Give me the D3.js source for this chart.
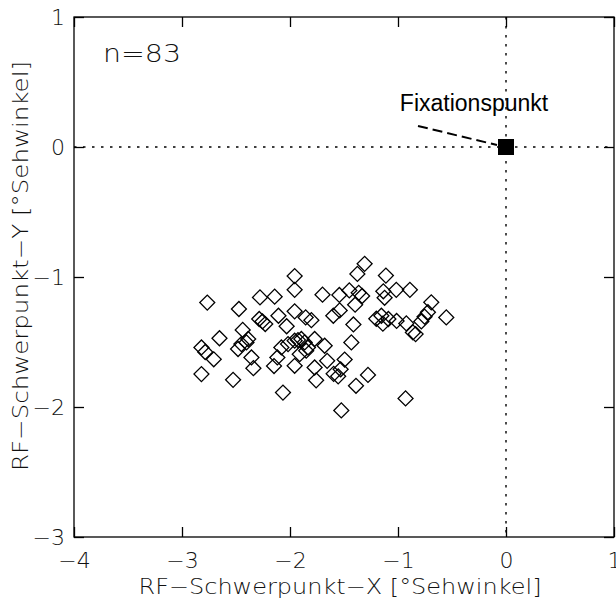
<!DOCTYPE html>
<html>
<head>
<meta charset="utf-8">
<script src="https://cdn.jsdelivr.net/npm/d3@7"></script>
<style>
  html, body { margin: 0; padding: 0; background: #fff; }
  svg { display: block; }
  .hershey { font-family: "DejaVu Sans", sans-serif; font-weight: 200; fill: #111; }
</style>
</head>
<body>
<svg id="chart" width="616" height="605"></svg>
<script>
// ---- data ----
const xTickValues = [-4, -3, -2, -1, 0, 1];
const yTickValues = [-3, -2, -1, 0, 1];
const xTickLabels = ["\u22124", "\u22123", "\u22122", "\u22121", "0", "1"];
const yTickLabels = ["\u22123", "\u22122", "\u22121", "0", "1"];

const rfX = [
  -2.766, -2.820, -2.785, -2.706, -2.820, -2.653, -2.527, -2.473, -2.438, -2.387,
  -2.481, -2.450, -2.357, -2.339, -2.285, -2.255, -2.229, -2.278,
  -2.142, -1.957, -1.957, -2.107, -1.957, -2.031, -1.855, -1.802, -2.148, -2.117,
  -2.065, -1.957, -2.080, -2.018, -1.957, -1.895, -1.864, -1.910, -1.850, -1.772,
  -1.834, -1.772, -1.758,
  -1.699, -1.543, -1.451, -1.364, -1.332, -1.397, -1.309, -1.376, -1.112, -1.136,
  -1.124, -1.016, -0.890, -0.692, -1.540, -1.599, -1.413, -1.201, -1.154, -1.140,
  -1.089, -1.013, -0.923, -0.862, -0.837, -0.784, -0.754, -0.723, -0.553, -1.432,
  -1.679, -1.656, -1.494, -1.531, -1.554, -1.596, -1.278, -1.389, -0.930, -1.525,
  -2.403, -1.926
];
const rfY = [
  -1.197, -1.542, -1.577, -1.633, -1.747, -1.471, -1.791, -1.246, -1.407, -1.477,
  -1.554, -1.516, -1.619, -1.701, -1.323, -1.342, -1.362, -1.157,
  -1.151, -0.993, -1.099, -1.298, -1.264, -1.379, -1.311, -1.332, -1.685, -1.619,
  -1.889, -1.683, -1.542, -1.516, -1.490, -1.477, -1.503, -1.594, -1.567, -1.477,
  -1.542, -1.696, -1.795,
  -1.136, -1.138, -1.103, -1.122, -1.146, -1.213, -0.899, -0.976, -0.989, -1.110,
  -1.160, -1.099, -1.099, -1.195, -1.257, -1.298, -1.365, -1.321, -1.298, -1.359,
  -1.323, -1.338, -1.357, -1.426, -1.439, -1.342, -1.305, -1.271, -1.311, -1.503,
  -1.529, -1.645, -1.635, -1.710, -1.764, -1.745, -1.753, -1.837, -1.934, -2.026,
  -1.503, -1.485
];
const fixation = [{x: 0, y: 0}];
const nLabel = "n=83";
const xTitle = "RF\u2212Schwerpunkt\u2212X [\u00B0Sehwinkel]";
const yTitle = "RF\u2212Schwerpunkt\u2212Y [\u00B0Sehwinkel]";
const fixLabel = "Fixationspunkt";

// ---- layout ----
const L = 74, R = 614, T = 17, B = 537;
const x = d3.scaleLinear().domain([-4, 1]).range([L, R]);
const y = d3.scaleLinear().domain([-3, 1]).range([B, T]);

const svg = d3.select("#chart");

// dotted reference lines
svg.append("line")
  .attr("x1", x(-4)).attr("x2", x(1)).attr("y1", y(0)).attr("y2", y(0))
  .attr("stroke", "#000").attr("stroke-width", 1.4).attr("stroke-dasharray", "2.5,6.5");
svg.append("line")
  .attr("x1", x(0)).attr("x2", x(0)).attr("y1", y(1)).attr("y2", y(-3))
  .attr("stroke", "#000").attr("stroke-width", 1.4).attr("stroke-dasharray", "2.5,6.5");

// frame
svg.append("rect")
  .attr("x", L).attr("y", T).attr("width", R - L).attr("height", B - T)
  .attr("fill", "none").attr("stroke", "#000").attr("stroke-width", 1.3);

// axes with inward ticks (no domain)
const tickLen = 10;
const axBottom = d3.axisBottom(x).tickValues(xTickValues).tickSize(-tickLen).tickFormat((d, i) => xTickLabels[i]).tickPadding(15);
const axTop = d3.axisTop(x).tickValues(xTickValues).tickSize(-tickLen).tickFormat("");
const axLeft = d3.axisLeft(y).tickValues(yTickValues).tickSize(-tickLen).tickFormat((d, i) => yTickLabels[i]).tickPadding(9);
const axRight = d3.axisRight(y).tickValues(yTickValues).tickSize(-tickLen).tickFormat("");

function styleAxis(g) {
  g.select(".domain").remove();
  g.selectAll(".tick line").attr("stroke", "#000").attr("stroke-width", 1.3);
  g.selectAll(".tick text").attr("class", "hershey").attr("font-size", 22).style("font-family", "'DejaVu Sans', sans-serif").style("font-weight", 200).attr("fill", "#111");
}
svg.append("g").attr("transform", `translate(0,${B})`).call(axBottom).call(styleAxis)
  .selectAll(".tick text").attr("dy", "0.71em");
svg.append("g").attr("transform", `translate(0,${T})`).call(axTop).call(styleAxis);
svg.append("g").attr("transform", `translate(${L},0)`).call(axLeft).call(styleAxis)
  .selectAll(".tick text").attr("dy", "0.36em");
svg.append("g").attr("transform", `translate(${R},0)`).call(axRight).call(styleAxis);

// scatter diamonds
const pts = rfX.map((v, i) => ({x: v, y: rfY[i]}));
const diamond = d3.symbol().type(d3.symbolSquare).size(112);
svg.append("g").selectAll("path").data(pts).join("path")
  .attr("d", diamond)
  .attr("transform", d => `translate(${x(d.x)},${y(d.y)}) rotate(45)`)
  .attr("fill", "none").attr("stroke", "#000").attr("stroke-width", 1.3);

// fixation point
svg.append("g").selectAll("rect").data(fixation).join("rect")
  .attr("x", d => x(d.x) - 8).attr("y", d => y(d.y) - 8)
  .attr("width", 16).attr("height", 16).attr("fill", "#000");

// dashed pointer
svg.append("line")
  .attr("x1", 418).attr("y1", 126).attr("x2", x(0) - 9).attr("y2", y(0) - 2)
  .attr("stroke", "#000").attr("stroke-width", 2).attr("stroke-dasharray", "10,5");

svg.append("text")
  .attr("x", 474).attr("y", 111).attr("text-anchor", "middle")
  .attr("font-family", "'Liberation Sans', Arial, sans-serif").attr("font-size", 23)
  .attr("fill", "#000").text(fixLabel);

// n label
svg.append("text").attr("class", "hershey")
  .attr("x", 103).attr("y", 62).attr("font-size", 25)
  .attr("textLength", 78).attr("lengthAdjust", "spacingAndGlyphs").text(nLabel);

// axis titles
svg.append("text").attr("class", "hershey")
  .attr("x", 340).attr("y", 594).attr("text-anchor", "middle").attr("font-size", 22)
  .attr("textLength", 403).attr("lengthAdjust", "spacingAndGlyphs").text(xTitle);
svg.append("text").attr("class", "hershey")
  .attr("transform", "translate(28,266) rotate(-90)").attr("text-anchor", "middle").attr("font-size", 22)
  .attr("textLength", 410).attr("lengthAdjust", "spacingAndGlyphs").text(yTitle);
</script>
</body>
</html>
